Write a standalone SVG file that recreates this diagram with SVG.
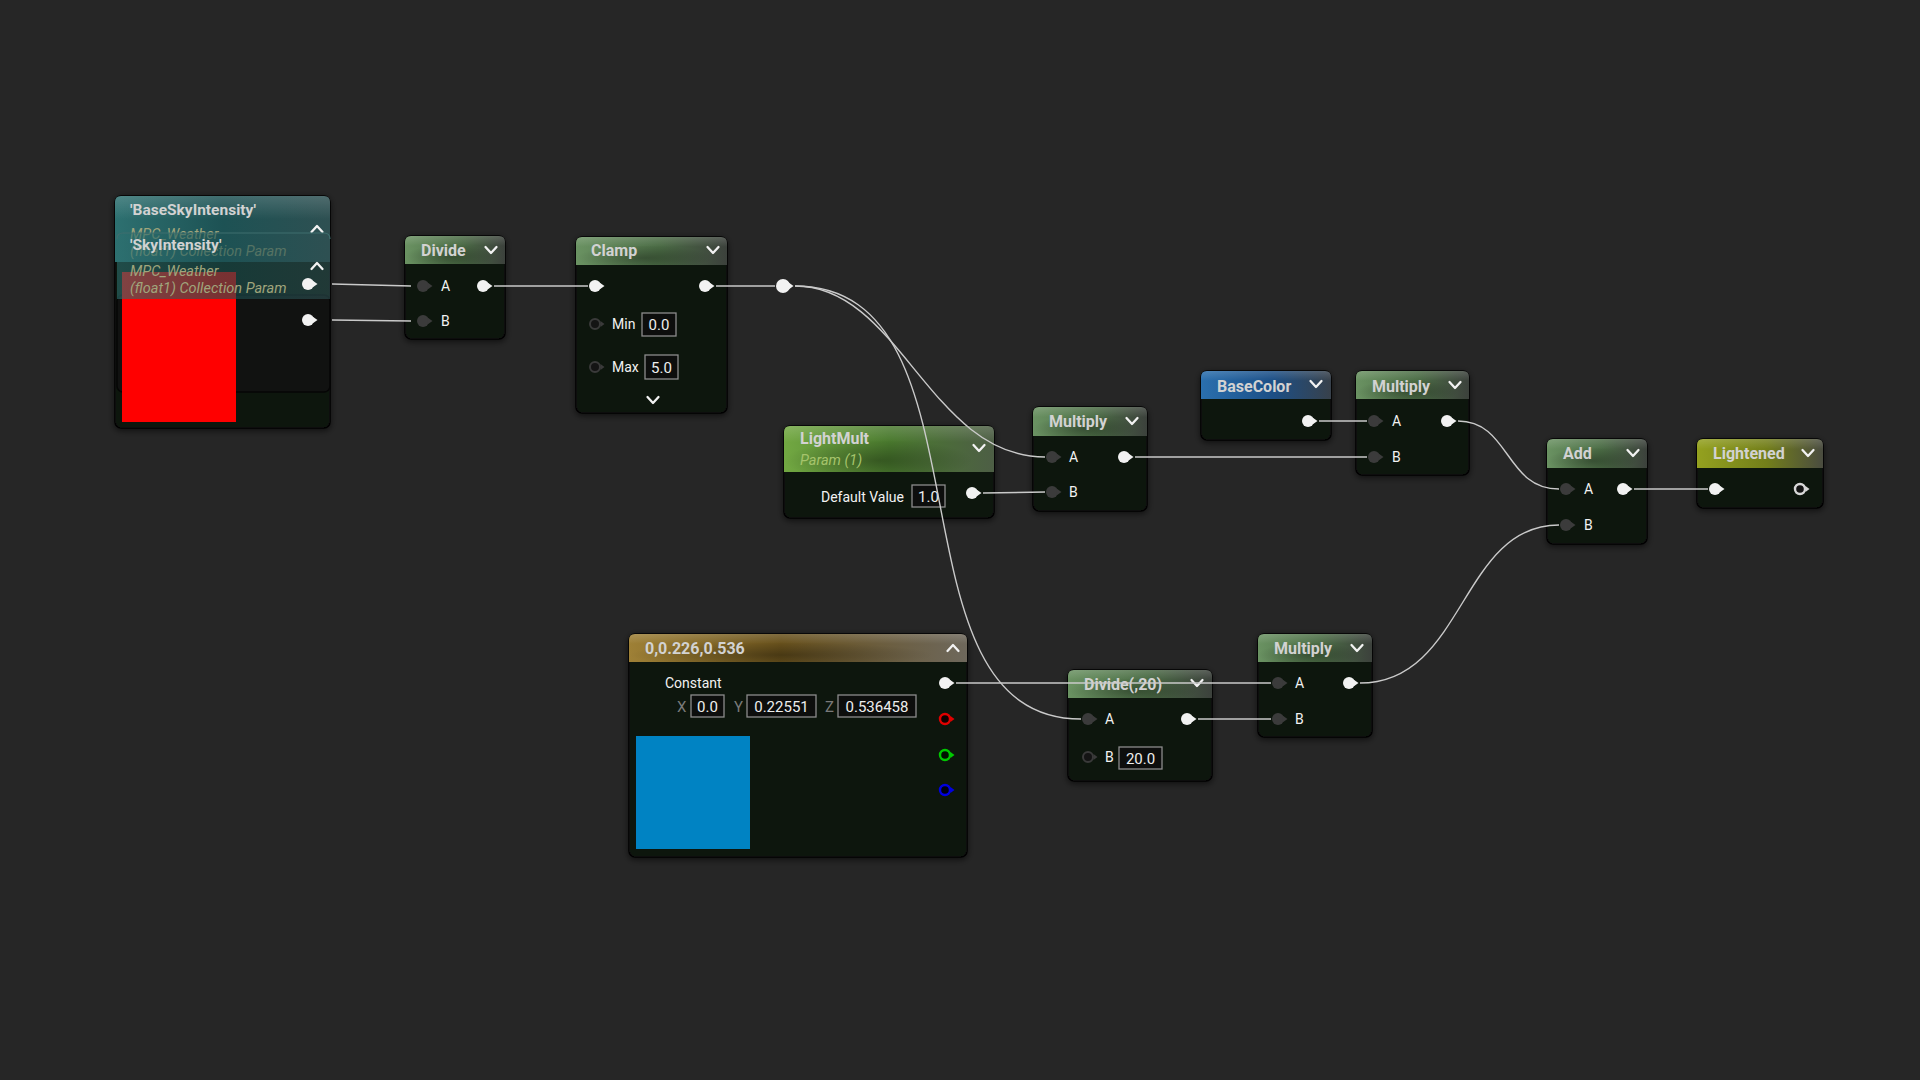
<svg xmlns="http://www.w3.org/2000/svg" xmlns:xlink="http://www.w3.org/1999/xlink" width="1920" height="1080" viewBox="0 0 1920 1080">
<defs>
<style>
.body{fill:#111211;stroke:#060606;stroke-width:1.5}
.title{font-family:Roboto,"Liberation Sans",sans-serif;font-weight:bold;font-size:16px;fill:#D2D2D2}
.sub{font-family:Roboto,"Liberation Sans",sans-serif;font-style:italic;font-size:14.5px}
.lbl{font-family:Roboto,"Liberation Sans",sans-serif;font-size:14px;fill:#F2F2F2}
.axis{font-family:Roboto,"Liberation Sans",sans-serif;font-size:15px;fill:#7A7A7A}
.box{fill:#0D0E0D;stroke:#8C8C8C;stroke-width:1.3}
.val{font-family:Roboto,"Liberation Sans",sans-serif;font-size:15px;fill:#EEEEEE;text-anchor:middle}
.chev{fill:none;stroke:#F2F2F2;stroke-width:2.3;stroke-linecap:round;stroke-linejoin:round}
.wire{fill:none;stroke:#CACACA;stroke-width:1.4}
.gloss{fill:url(#gloss)}
.blot{fill:url(#blotch)}
</style>
<filter id="sh" x="-20%" y="-20%" width="140%" height="140%">
<feDropShadow dx="0" dy="2" stdDeviation="3" flood-color="#000" flood-opacity="0.6"/>
</filter>
<linearGradient id="gGreen" x1="0" y1="0" x2="1" y2="0"><stop offset="0" stop-color="#6A9262"/><stop offset="0.55" stop-color="#4B6C45"/><stop offset="1" stop-color="#3C413C"/></linearGradient>
<linearGradient id="gLime" x1="0" y1="0" x2="1" y2="0"><stop offset="0" stop-color="#72A842"/><stop offset="0.5" stop-color="#4A7A2E"/><stop offset="1" stop-color="#4D5E45"/></linearGradient>
<linearGradient id="gBlue" x1="0" y1="0" x2="1" y2="0"><stop offset="0" stop-color="#2A6FAE"/><stop offset="0.55" stop-color="#1C4F86"/><stop offset="1" stop-color="#38414B"/></linearGradient>
<linearGradient id="gOlive" x1="0" y1="0" x2="1" y2="0"><stop offset="0" stop-color="#94A11F"/><stop offset="0.55" stop-color="#737F1A"/><stop offset="1" stop-color="#4A4C40"/></linearGradient>
<linearGradient id="gGold" x1="0" y1="0" x2="1" y2="0"><stop offset="0" stop-color="#9E8036"/><stop offset="0.45" stop-color="#68511C"/><stop offset="1" stop-color="#6E685C"/></linearGradient>
<linearGradient id="gTeal" x1="0" y1="0" x2="1" y2="0"><stop offset="0" stop-color="#2D7070"/><stop offset="0.5" stop-color="#1D5254"/><stop offset="1" stop-color="#2E5052"/></linearGradient>
<linearGradient id="gloss" x1="0" y1="0" x2="0" y2="1"><stop offset="0" stop-color="#FFFFFF" stop-opacity="0.16"/><stop offset="0.35" stop-color="#FFFFFF" stop-opacity="0"/></linearGradient>
<radialGradient id="blotch" cx="0.45" cy="0.75" r="0.45"><stop offset="0" stop-color="#000" stop-opacity="0.3"/><stop offset="1" stop-color="#000" stop-opacity="0"/></radialGradient>
<g id="pin-out"><circle r="6" fill="#F2F2F2"/><path d="M4.5,-3.5 L9.5,0 L4.5,3.5Z" fill="#F2F2F2"/></g>
<g id="pin-in"><circle r="6" fill="#3B3B3B"/><path d="M4.5,-3.5 L9.5,0 L4.5,3.5Z" fill="#3B3B3B"/></g>
<g id="pin-hollow"><circle r="5" fill="#141414" stroke="#3A3A3A" stroke-width="2"/><path d="M5.5,-3 L9.5,0 L5.5,3Z" fill="#3A3A3A"/></g>
<g id="pin-ring"><circle r="5" fill="#141414" stroke="#D8D8D8" stroke-width="2.4"/><path d="M5.5,-3 L9.5,0 L5.5,3Z" fill="#D8D8D8"/></g>
<g id="pin-red"><circle r="5" fill="#120000" stroke="#E00000" stroke-width="2.4"/><path d="M5.5,-3 L9.5,0 L5.5,3Z" fill="#E00000"/></g>
<g id="pin-green"><circle r="5" fill="#001200" stroke="#00C800" stroke-width="2.4"/><path d="M5.5,-3 L9.5,0 L5.5,3Z" fill="#00C800"/></g>
<g id="pin-blue"><circle r="5" fill="#000012" stroke="#0000E0" stroke-width="2.4"/><path d="M5.5,-3 L9.5,0 L5.5,3Z" fill="#0000E0"/></g>
<path id="chev-d" class="chev" d="M-5.5,-3 L0,3 L5.5,-3"/>
<path id="chev-u" class="chev" d="M-5.5,3 L0,-3 L5.5,3"/>
</defs>
<rect width="1920" height="1080" fill="#262626"/>

<g id="node-baseskyintensity" transform="translate(115,196)">
<rect class="body" width="215" height="232" rx="6" filter="url(#sh)"/>
<path d="M0,66 V6 Q0,0 6,0 H209 Q215,0 215,6 V66 Z" fill="url(#gTeal)"/>
<path d="M0,66 V6 Q0,0 6,0 H209 Q215,0 215,6 V66 Z" class="gloss"/>
<text class="title" x="15" y="19" style="font-size:15.5px">'BaseSkyIntensity'</text>
<text class="sub" x="15" y="43" fill="#A0A57C">MPC_Weather</text>
<text class="sub" x="15" y="60" fill="#A0A57C">(float1) Collection Param</text>
<use href="#chev-u" x="202" y="33"/>
</g>

<g id="node-skyintensity" transform="translate(117,233)">
<rect class="body" y="62" width="213" height="97" rx="6"/>
<rect x="5" y="39" width="114" height="150" fill="#FF0000"/>
<path d="M0,66 V6 Q0,0 6,0 H207 Q213,0 213,6 V66 Z" fill="url(#gTeal)" opacity="0.6"/>
<path d="M0,6 Q0,0 6,0 H207 Q213,0 213,6" fill="none" stroke="#3E6E6E" stroke-width="1.2"/>
<text class="title" x="13" y="17" style="font-size:15.5px">'SkyIntensity'</text>
<text class="sub" x="13" y="43" fill="#A0A57C">MPC_Weather</text>
<text class="sub" x="13" y="60" fill="#A0A57C">(float1) Collection Param</text>
<use href="#chev-u" x="200" y="33"/>
<use href="#pin-out" x="191" y="51"/>
<use href="#pin-out" x="191" y="87"/>
</g>

<g id="node-divide" transform="translate(405,236)">
<rect class="body" width="100" height="103" rx="6" filter="url(#sh)"/>
<path d="M0,28 V6 Q0,0 6,0 H94 Q100,0 100,6 V28 Z" fill="url(#gGreen)"/>
<path d="M0,28 V6 Q0,0 6,0 H94 Q100,0 100,6 V28 Z" class="blot"/>
<path d="M0,28 V6 Q0,0 6,0 H94 Q100,0 100,6 V28 Z" class="gloss"/>
<text class="title" x="16" y="20">Divide</text>
<use href="#chev-d" x="86" y="14"/>
<use href="#pin-in" x="18" y="50"/><text class="lbl" x="36" y="55">A</text>
<use href="#pin-out" x="78" y="50"/>
<use href="#pin-in" x="18" y="85"/><text class="lbl" x="36" y="90">B</text>
</g>

<g id="node-clamp" transform="translate(576,237)">
<rect class="body" width="151" height="176" rx="6" filter="url(#sh)"/>
<path d="M0,28 V6 Q0,0 6,0 H145 Q151,0 151,6 V28 Z" fill="url(#gGreen)"/>
<path d="M0,28 V6 Q0,0 6,0 H145 Q151,0 151,6 V28 Z" class="blot"/>
<path d="M0,28 V6 Q0,0 6,0 H145 Q151,0 151,6 V28 Z" class="gloss"/>
<text class="title" x="15" y="19">Clamp</text>
<use href="#chev-d" x="137" y="13"/>
<use href="#pin-out" x="19" y="49"/>
<use href="#pin-out" x="129" y="49"/>
<use href="#pin-hollow" x="19" y="87"/><text class="lbl" x="36" y="92">Min</text>
<rect class="box" x="66" y="76" width="34" height="23"/><text class="val" x="83" y="93">0.0</text>
<use href="#pin-hollow" x="19" y="130"/><text class="lbl" x="36" y="135">Max</text>
<rect class="box" x="69" y="118" width="33" height="24"/><text class="val" x="85.5" y="136">5.0</text>
<use href="#chev-d" x="77" y="163"/>
</g>

<g id="node-lightmult" transform="translate(784,426)">
<rect class="body" width="210" height="92" rx="6" filter="url(#sh)"/>
<path d="M0,46 V6 Q0,0 6,0 H204 Q210,0 210,6 V46 Z" fill="url(#gLime)"/>
<path d="M0,46 V6 Q0,0 6,0 H204 Q210,0 210,6 V46 Z" class="blot"/>
<path d="M0,46 V6 Q0,0 6,0 H204 Q210,0 210,6 V46 Z" class="gloss"/>
<text class="title" x="16" y="18">LightMult</text>
<text class="sub" x="16" y="39" fill="#A6C46C">Param (1)</text>
<use href="#chev-d" x="195" y="22"/>
<text class="lbl" x="120" y="76" text-anchor="end">Default Value</text>
<rect class="box" x="128" y="59" width="33" height="22"/><text class="val" x="144.5" y="76">1.0</text>
<use href="#pin-out" x="188" y="67"/>
</g>

<g id="node-multiply-1" transform="translate(1033,407)">
<rect class="body" width="114" height="104" rx="6" filter="url(#sh)"/>
<path d="M0,29 V6 Q0,0 6,0 H108 Q114,0 114,6 V29 Z" fill="url(#gGreen)"/>
<path d="M0,29 V6 Q0,0 6,0 H108 Q114,0 114,6 V29 Z" class="blot"/>
<path d="M0,29 V6 Q0,0 6,0 H108 Q114,0 114,6 V29 Z" class="gloss"/>
<text class="title" x="16" y="20">Multiply</text>
<use href="#chev-d" x="99" y="14"/>
<use href="#pin-in" x="19" y="50"/><text class="lbl" x="36" y="55">A</text>
<use href="#pin-out" x="91" y="50"/>
<use href="#pin-in" x="19" y="85"/><text class="lbl" x="36" y="90">B</text>
</g>

<g id="node-basecolor" transform="translate(1201,371)">
<rect class="body" width="130" height="69" rx="6" filter="url(#sh)"/>
<path d="M0,28 V6 Q0,0 6,0 H124 Q130,0 130,6 V28 Z" fill="url(#gBlue)"/>
<path d="M0,28 V6 Q0,0 6,0 H124 Q130,0 130,6 V28 Z" class="gloss"/>
<text class="title" x="16" y="21">BaseColor</text>
<use href="#chev-d" x="115" y="13"/>
<use href="#pin-out" x="107" y="50"/>
</g>

<g id="node-multiply-2" transform="translate(1356,371)">
<rect class="body" width="113" height="104" rx="6" filter="url(#sh)"/>
<path d="M0,28 V6 Q0,0 6,0 H107 Q113,0 113,6 V28 Z" fill="url(#gGreen)"/>
<path d="M0,28 V6 Q0,0 6,0 H107 Q113,0 113,6 V28 Z" class="blot"/>
<path d="M0,28 V6 Q0,0 6,0 H107 Q113,0 113,6 V28 Z" class="gloss"/>
<text class="title" x="16" y="21">Multiply</text>
<use href="#chev-d" x="99" y="14"/>
<use href="#pin-in" x="18" y="50"/><text class="lbl" x="36" y="55">A</text>
<use href="#pin-out" x="91" y="50"/>
<use href="#pin-in" x="18" y="86"/><text class="lbl" x="36" y="91">B</text>
</g>

<g id="node-add" transform="translate(1547,439)">
<rect class="body" width="100" height="105" rx="6" filter="url(#sh)"/>
<path d="M0,29 V6 Q0,0 6,0 H94 Q100,0 100,6 V29 Z" fill="url(#gGreen)"/>
<path d="M0,29 V6 Q0,0 6,0 H94 Q100,0 100,6 V29 Z" class="blot"/>
<path d="M0,29 V6 Q0,0 6,0 H94 Q100,0 100,6 V29 Z" class="gloss"/>
<text class="title" x="16" y="20">Add</text>
<use href="#chev-d" x="86" y="14"/>
<use href="#pin-in" x="19" y="50"/><text class="lbl" x="37" y="55">A</text>
<use href="#pin-out" x="76" y="50"/>
<use href="#pin-in" x="19" y="86"/><text class="lbl" x="37" y="91">B</text>
</g>

<g id="node-lightened" transform="translate(1697,439)">
<rect class="body" width="126" height="69" rx="6" filter="url(#sh)"/>
<path d="M0,29 V6 Q0,0 6,0 H120 Q126,0 126,6 V29 Z" fill="url(#gOlive)"/>
<path d="M0,29 V6 Q0,0 6,0 H120 Q126,0 126,6 V29 Z" class="gloss"/>
<text class="title" x="16" y="20">Lightened</text>
<use href="#chev-d" x="111" y="14"/>
<use href="#pin-out" x="18" y="50"/>
<use href="#pin-ring" x="103" y="50"/>
</g>

<g id="node-constant" transform="translate(629,634)">
<rect class="body" width="338" height="223" rx="6" filter="url(#sh)"/>
<path d="M0,28 V6 Q0,0 6,0 H332 Q338,0 338,6 V28 Z" fill="url(#gGold)"/>
<path d="M0,28 V6 Q0,0 6,0 H332 Q338,0 338,6 V28 Z" class="blot"/>
<path d="M0,28 V6 Q0,0 6,0 H332 Q338,0 338,6 V28 Z" class="gloss"/>
<text class="title" x="16" y="20">0,0.226,0.536</text>
<use href="#chev-u" x="324" y="14"/>
<text class="lbl" x="36" y="54">Constant</text>
<text class="axis" x="48" y="78">X</text>
<rect class="box" x="62" y="61" width="33" height="22"/><text class="val" x="78.5" y="78">0.0</text>
<text class="axis" x="105" y="78">Y</text>
<rect class="box" x="118" y="61" width="69" height="22"/><text class="val" x="152.5" y="78">0.22551</text>
<text class="axis" x="196" y="78">Z</text>
<rect class="box" x="209" y="61" width="78" height="22"/><text class="val" x="248" y="78">0.536458</text>
<rect x="7" y="102" width="114" height="113" fill="#0083C3"/>
<use href="#pin-out" x="316" y="49"/>
<use href="#pin-red" x="316" y="85"/>
<use href="#pin-green" x="316" y="121"/>
<use href="#pin-blue" x="316" y="156"/>
</g>

<g id="node-divide-20" transform="translate(1068,670)">
<rect class="body" width="144" height="111" rx="6" filter="url(#sh)"/>
<path d="M0,28 V6 Q0,0 6,0 H138 Q144,0 144,6 V28 Z" fill="url(#gGreen)"/>
<path d="M0,28 V6 Q0,0 6,0 H138 Q144,0 144,6 V28 Z" class="blot"/>
<path d="M0,28 V6 Q0,0 6,0 H138 Q144,0 144,6 V28 Z" class="gloss"/>
<text class="title" x="16" y="20">Divide(,20)</text>
<use href="#chev-d" x="129" y="13"/>
<use href="#pin-in" x="20" y="49"/><text class="lbl" x="37" y="54">A</text>
<use href="#pin-out" x="119" y="49"/>
<use href="#pin-hollow" x="20" y="87"/><text class="lbl" x="37" y="92">B</text>
<rect class="box" x="51" y="77" width="43" height="22"/><text class="val" x="72.5" y="94">20.0</text>
</g>

<g id="node-multiply-3" transform="translate(1258,634)">
<rect class="body" width="114" height="103" rx="6" filter="url(#sh)"/>
<path d="M0,28 V6 Q0,0 6,0 H108 Q114,0 114,6 V28 Z" fill="url(#gGreen)"/>
<path d="M0,28 V6 Q0,0 6,0 H108 Q114,0 114,6 V28 Z" class="blot"/>
<path d="M0,28 V6 Q0,0 6,0 H108 Q114,0 114,6 V28 Z" class="gloss"/>
<text class="title" x="16" y="20">Multiply</text>
<use href="#chev-d" x="99" y="14"/>
<use href="#pin-in" x="20" y="49"/><text class="lbl" x="37" y="54">A</text>
<use href="#pin-out" x="91" y="49"/>
<use href="#pin-in" x="20" y="85"/><text class="lbl" x="37" y="90">B</text>
</g>

<g id="node-reroute" transform="translate(783,286)">
<circle r="7" fill="#F2F2F2"/><path d="M5,-4 L10.5,0 L5,4Z" fill="#F2F2F2"/>
</g>

<g id="connectors">
<path class="wire" d="M332,284 L411,286"/>
<path class="wire" d="M332,320 L411,321"/>
<path class="wire" d="M494,286 L588,286"/>
<path class="wire" d="M716,286 L775,286"/>
<path class="wire" d="M795,286 C900,286 930,457 1045,457"/>
<path class="wire" d="M795,286 C1000,286 880,719 1081,719"/>
<path class="wire" d="M983,493 L1045,492"/>
<path class="wire" d="M1135,457 L1367,457"/>
<path class="wire" d="M1319,421 L1367,421"/>
<path class="wire" d="M1458,421 C1510,421 1505,489 1559,489"/>
<path class="wire" d="M1634,489 L1708,489"/>
<path class="wire" d="M956,683 L1271,683"/>
<path class="wire" d="M1198,719 L1271,719"/>
<path class="wire" d="M1360,683 C1465,683 1460,525 1559,525"/>
</g>
</svg>
